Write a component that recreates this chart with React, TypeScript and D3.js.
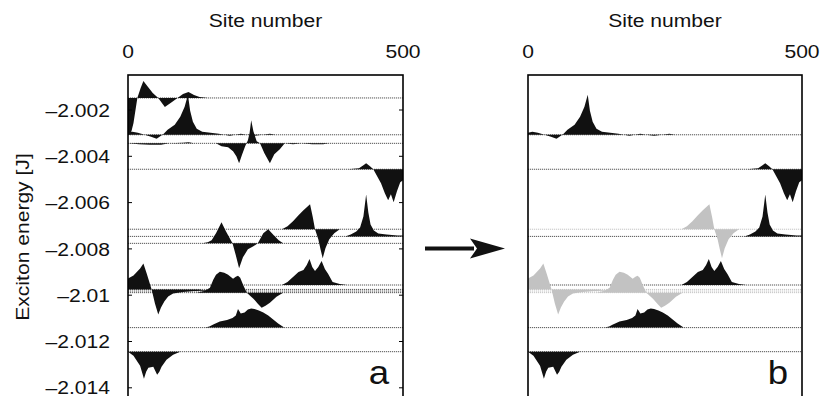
import React from 'react';
import * as d3 from 'd3';

const W = 820;
const H = 396;
const FONT = '"Liberation Sans", Arial, Helvetica, sans-serif';
const STRETCH = 1.11;

const siteTicks = [0, 500];
const energyTicks = [-2.002, -2.004, -2.006, -2.008, -2.01, -2.012, -2.014];

// exciton energies [J], one per eigenstate
const energies = [
  -2.00148, -2.00307, -2.00344, -2.00456, -2.00715, -2.00746, -2.00776,
  -2.00956, -2.00975, -2.00982, -2.00989, -2.0114, -2.01244,
];
// how each state shows up in panel b (null = left out)
const shadeB = [null, 'black', null, 'black', 'gray', 'black', null, 'black', 'gray', 'gray', 'gray', 'black', 'black'];

// wavefunction amplitudes [site, psi]
const psi1 = [[0, -0.37], [5, -0.36], [10, -0.25], [17, 0], [23, 0.1], [28, 0.17], [35, 0.12], [45, 0.05], [55, 0], [67, -0.09], [80, -0.04], [90, 0], [100, 0.04], [110, 0.06], [120, 0.03], [130, 0.01], [145, 0]];
const psi2 = [[0, 0.02], [8, 0.03], [18, 0.02], [30, 0], [42, -0.02], [52, -0.04], [60, -0.01], [65, 0.01], [72, 0.05], [85, 0.1], [95, 0.18], [103, 0.28], [109, 0.4], [113, 0.24], [118, 0.13], [125, 0.06], [135, 0.03], [150, 0.02], [165, 0.01], [175, 0], [185, -0.01], [195, 0], [205, 0.01], [215, 0], [230, -0.01], [245, 0], [258, 0.01], [268, 0]];
const psi3 = [[0, 0], [20, -0.01], [40, -0.015], [60, -0.015], [75, 0], [100, 0.005], [110, 0.01], [120, 0], [160, 0], [170, -0.03], [182, -0.04], [191, -0.08], [197, -0.13], [202, -0.2], [207, -0.12], [213, -0.03], [218, 0.03], [221, 0.1], [224, 0.23], [228, 0.12], [234, 0.02], [240, 0], [248, -0.1], [258, -0.2], [266, -0.11], [276, -0.06], [285, 0], [300, -0.01], [315, 0], [335, -0.01], [355, -0.01], [365, 0]];
const psi4 = [[400, 0], [420, 0.01], [428, 0.04], [433, 0.06], [440, 0.03], [446, 0], [452, -0.06], [460, -0.14], [467, -0.24], [473, -0.31], [478, -0.25], [483, -0.33], [489, -0.22], [495, -0.13], [500, -0.11]];
const psi5 = [[280, 0], [290, 0.03], [300, 0.08], [310, 0.14], [319, 0.19], [331, 0.25], [336, 0.12], [340, 0], [346, -0.1], [350, -0.2], [354, -0.29], [359, -0.19], [366, -0.1], [375, -0.04], [385, 0]];
const psi6 = [[395, 0], [405, 0.02], [415, 0.05], [422, 0.09], [428, 0.2], [433, 0.42], [437, 0.24], [441, 0.12], [447, 0.06], [455, 0.03], [470, 0.02], [490, 0.01], [500, 0.01]];
const psi7 = [[135, 0], [145, 0.01], [152, 0.03], [160, 0.1], [170, 0.21], [178, 0.12], [190, 0], [196, -0.12], [202, -0.25], [209, -0.14], [218, -0.06], [228, -0.03], [236, 0], [246, 0.1], [255, 0.14], [265, 0.08], [274, 0.03], [282, 0]];
const psi8 = [[280, 0], [290, 0.03], [300, 0.08], [310, 0.13], [319, 0.15], [325, 0.2], [330, 0.26], [335, 0.18], [340, 0.14], [346, 0.18], [352, 0.24], [358, 0.16], [364, 0.11], [372, 0.03], [385, 0.01], [398, 0]];
const psi9 = [[0, 0.11], [10, 0.14], [22, 0.21], [28, 0.26], [34, 0.16], [43, 0], [49, -0.14], [55, -0.25], [60, -0.18], [66, -0.12], [73, -0.07], [82, -0.04], [100, -0.025], [120, -0.015], [135, 0]];
const psi10 = [[60, 0], [90, 0.005], [120, 0.01], [150, 0.005], [180, 0]];
const psi11 = [[125, 0], [140, 0.02], [149, 0.05], [155, 0.13], [160, 0.18], [167, 0.21], [175, 0.2], [182, 0.18], [191, 0.14], [196, 0.16], [200, 0.17], [204, 0.15], [210, 0.07], [216, 0], [228, -0.06], [236, -0.11], [243, -0.15], [250, -0.13], [258, -0.1], [270, -0.04], [282, 0]];
const psi12 = [[140, 0], [148, 0.01], [155, 0.03], [167, 0.06], [180, 0.075], [190, 0.095], [196, 0.12], [200, 0.185], [205, 0.14], [212, 0.15], [218, 0.18], [224, 0.19], [230, 0.185], [238, 0.17], [246, 0.15], [255, 0.12], [264, 0.08], [273, 0.04], [284, 0]];
const psi13 = [[0, 0], [5, -0.02], [10, -0.04], [16, -0.09], [22, -0.14], [29, -0.27], [33, -0.2], [37, -0.16], [46, -0.15], [53, -0.23], [57, -0.2], [61, -0.15], [70, -0.08], [82, -0.03], [95, 0]];

const waves = [psi1, psi2, psi3, psi4, psi5, psi6, psi7, psi8, psi9, psi10, psi11, psi12, psi13];

// energy units per unit of psi
const PSI_SCALE = 0.00432;

const y = d3.scaleLinear().domain([-2.002, -2.014]).range([110, 387.8]);
const yTop = 75;
const yBottom = H + 10;

// text slightly wider than the installed sans, like the original figure
function Label({ x, y, anchor = 'middle', size = 19, dy = 0, rotate = 0, children }) {
  return (
    <g transform={`translate(${x},${y}) rotate(${rotate}) scale(${STRETCH},1)`}>
      <text x={0} y={0} dy={dy} textAnchor={anchor} fontSize={size} fontFamily={FONT} fill="#111">{children}</text>
    </g>
  );
}

function Panel({ x0, x1, letter, mode, ticks }) {
  const x = d3.scaleLinear().domain([0, 500]).range([x0, x1]);
  const cx = (x0 + x1) / 2;

  let states = energies.map((E, i) => ({
    E,
    data: waves[i],
    shade: mode === 'a' ? 'black' : shadeB[i],
  })).filter(s => s.shade);
  // gray ones go underneath
  states = states.filter(s => s.shade === 'gray').concat(states.filter(s => s.shade === 'black'));

  const area = (E) => d3.area()
    .x(d => x(d[0]))
    .y0(y(E))
    .y1(d => y(E + d[1] * PSI_SCALE));

  return (
    <g>
      <Label x={cx} y={27}>Site number</Label>
      {siteTicks.map(t => (
        <Label key={t} x={x(t)} y={58}>{t}</Label>
      ))}
      {states.map((s, i) => (
        <line key={'l' + i} x1={x0} x2={x1} y1={y(s.E)} y2={y(s.E)}
          stroke={s.shade === 'gray' ? '#c4c4c4' : '#555'} strokeWidth={1} strokeDasharray="1.2 0.8" />
      ))}
      {states.map((s, i) => (
        <path key={'a' + i} d={area(s.E)(s.data)} fill={s.shade === 'gray' ? '#c2c2c2' : '#111'} />
      ))}
      {ticks && energyTicks.map(t => (
        <g key={t}>
          <line x1={x0} x2={x0 + 4} y1={y(t)} y2={y(t)} stroke="#000" strokeWidth={1} />
          <line x1={x1} x2={x1 - 4} y1={y(t)} y2={y(t)} stroke="#000" strokeWidth={1} />
        </g>
      ))}
      <rect x={x0} y={yTop} width={x1 - x0} height={yBottom - yTop} fill="none" stroke="#000" strokeWidth={1.6} />
      <Label x={x1 - 24} y={384} size={33}>{letter}</Label>
    </g>
  );
}

export default function App() {
  return (
    <svg width={W} height={H} style={{ position: 'absolute', left: 0, top: 0, background: '#fff' }}>
      <Panel x0={128} x1={403} letter="a" mode="a" ticks />
      <Panel x0={528} x1={802} letter="b" mode="b" ticks={false} />
      {energyTicks.map(t => (
        <Label key={t} x={110} y={y(t)} dy="0.35em" anchor="end">
          {'\u2013' + String(Math.abs(t))}
        </Label>
      ))}
      <Label x={22} y={237} rotate={-90} dy="0.35em">Exciton energy [J]</Label>
      {/* arrow a -> b */}
      <line x1={425} x2={474} y1={248.5} y2={248.5} stroke="#111" strokeWidth={4} />
      <path d="M470,238.5 L505,248.5 L470,258.5 L477,248.5 Z" fill="#111" />
    </svg>
  );
}
